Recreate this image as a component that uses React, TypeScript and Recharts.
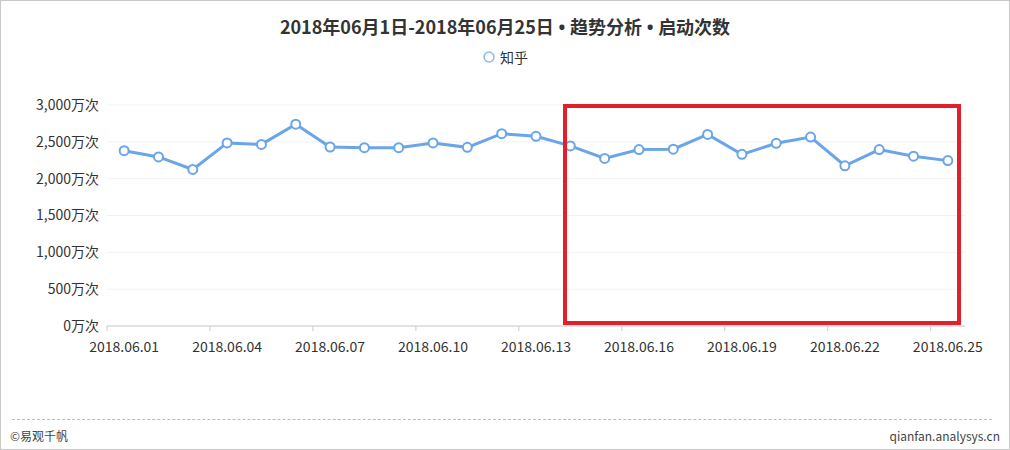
import { LineChart, Line, XAxis, YAxis, CartesianGrid } from 'recharts'

const dates = [
  '2018.06.01', '2018.06.02', '2018.06.03', '2018.06.04', '2018.06.05',
  '2018.06.06', '2018.06.07', '2018.06.08', '2018.06.09', '2018.06.10',
  '2018.06.11', '2018.06.12', '2018.06.13', '2018.06.14', '2018.06.15',
  '2018.06.16', '2018.06.17', '2018.06.18', '2018.06.19', '2018.06.20',
  '2018.06.21', '2018.06.22', '2018.06.23', '2018.06.24', '2018.06.25',
]
// 知乎 launches, unit: 万次
const zhihu = [
  2380, 2295, 2125, 2485, 2465, 2740, 2430, 2420, 2420, 2485,
  2425, 2610, 2575, 2445, 2275, 2395, 2400, 2600, 2330, 2480,
  2565, 2175, 2395, 2305, 2245,
]
const yTicks = [0, 500, 1000, 1500, 2000, 2500, 3000]

const BLUE = '#6aa5e8'
const FONT = '"Noto Sans CJK SC", "Noto Sans", sans-serif'
const PLOT_LEFT = 107
const PLOT_RIGHT = 965
const HALF_BAND = (PLOT_RIGHT - PLOT_LEFT) / dates.length / 2

const data = dates.map((d, i) => ({ date: d, value: zhihu[i] }))

function DateTick(props: any) {
  const { x, y, payload } = props
  return (
    <g>
      <line x1={x - HALF_BAND} y1={y} x2={x - HALF_BAND} y2={y + 5} stroke="#ccc" />
      <text x={x} y={y + 26} textAnchor="middle" fill="#333" fontSize={14} fontFamily={FONT}>
        {payload.value}
      </text>
    </g>
  )
}

const Dot = () => <span style={{ fontFamily: '"Noto Sans", sans-serif' }}> • </span>

export default function App() {
  return (
    <div style={{ position: 'relative', width: 1010, height: 450, background: '#fff', fontFamily: FONT }}>
      <style>{'body{margin:0}'}</style>
      <div style={{ position: 'absolute', left: 0, top: 0 }}>
        <LineChart
          width={1010}
          height={380}
          data={data}
          margin={{ top: 105, right: 1010 - PLOT_RIGHT, bottom: 14, left: 0 }}
        >
          <CartesianGrid vertical={false} stroke="#f2f2f2" />
          <XAxis
            dataKey="date"
            interval={2}
            height={40}
            padding={{ left: HALF_BAND, right: HALF_BAND }}
            tickSize={0}
            tickMargin={0}
            axisLine={{ stroke: '#ccc' }}
            tick={<DateTick />}
          />
          <YAxis
            width={PLOT_LEFT}
            domain={[0, 3000]}
            ticks={yTicks}
            axisLine={false}
            tickLine={false}
            tick={{ fill: '#333', fontSize: 14, fontFamily: FONT }}
            tickFormatter={(v: number) => `${v.toLocaleString('en-US')}万次`}
          />
          <Line
            type="linear"
            dataKey="value"
            name="知乎"
            stroke={BLUE}
            strokeWidth={3}
            dot={{ r: 4.5, fill: '#fff', stroke: BLUE, strokeWidth: 2 }}
            isAnimationActive={false}
          />
        </LineChart>
      </div>

      {/* title */}
      <div
        style={{
          position: 'absolute', left: 0, top: 13, width: 1010, textAlign: 'center',
          fontSize: 18, fontWeight: 700, color: '#333', lineHeight: '26px', whiteSpace: 'pre',
        }}
      >
        2018年06月1日-2018年06月25日<Dot />趋势分析<Dot />启动次数
      </div>

      {/* legend */}
      <div
        style={{
          position: 'absolute', left: 0, top: 47, width: 1010, display: 'flex',
          justifyContent: 'center', alignItems: 'center', fontSize: 14, color: '#333', lineHeight: '20px',
        }}
      >
        <svg width={14} height={14} style={{ marginRight: 4 }}>
          <circle cx={7} cy={7} r={5} fill="#fff" stroke="#8dbbea" strokeWidth={1.5} />
        </svg>
        <span>知乎</span>
      </div>

      {/* highlight box */}
      <div
        style={{
          position: 'absolute', left: 563, top: 104, width: 398, height: 221,
          boxSizing: 'border-box', border: '4px solid #e2202c',
        }}
      />

      {/* footer */}
      <div style={{ position: 'absolute', left: 12, right: 18, top: 419, borderTop: '1px dashed #bbb' }} />
      <div style={{ position: 'absolute', left: 10, top: 427, fontSize: 12, color: '#444' }}>©易观千帆</div>
      <div style={{ position: 'absolute', right: 10, top: 427, fontSize: 12, color: '#444' }}>qianfan.analysys.cn</div>

      <div
        style={{
          position: 'absolute', left: 0, top: 0, width: 1010, height: 450,
          boxSizing: 'border-box', border: '1px solid #c8c8c8', pointerEvents: 'none',
        }}
      />
    </div>
  )
}
